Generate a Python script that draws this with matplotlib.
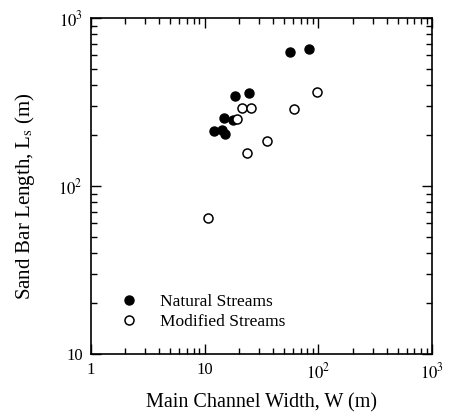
import matplotlib
matplotlib.use("Agg")
import matplotlib.pyplot as plt
from matplotlib.ticker import LogLocator, NullFormatter, FixedFormatter, FixedLocator

plt.rcParams['font.family'] = ['Liberation Serif', 'DejaVu Serif']
plt.rcParams['mathtext.fontset'] = 'stix'

# === Data ===
natural_w = [56.3, 82.3, 18.5, 24.5, 14.9, 17.9, 12.2, 14.3, 15.1]
natural_l = [625, 654, 342, 358, 254, 247, 212, 215, 204]

modified_w = [21.2, 25.6, 19.1, 35.1, 23.4, 60.7, 97.3, 10.8]
modified_l = [290, 290, 250, 186, 157, 287, 363, 64.8]

x_ticks = [1, 10, 100, 1000]
x_tick_labels = ['1', '10', r'$10^2$', r'$10^3$']
y_ticks = [10, 100, 1000]
y_tick_labels = ['10', r'$10^2$', r'$10^3$']

# === Plotting ===
fig = plt.figure(figsize=(4.49, 4.20), dpi=100)
ax = fig.add_axes([0.2027, 0.1571, 0.7594, 0.8000])

ax.plot(natural_w, natural_l, 'o', color='black', markersize=6.5,
        label='Natural Streams')
ax.plot(modified_w, modified_l, 'o', markerfacecolor='white',
        markeredgecolor='black', markeredgewidth=1.1, markersize=6.5,
        label='Modified Streams')

ax.set_xscale('log')
ax.set_yscale('log')
ax.set_xlim(1, 1000)
ax.set_ylim(10, 1000)

ax.xaxis.set_major_locator(FixedLocator(x_ticks))
ax.xaxis.set_major_formatter(FixedFormatter(x_tick_labels))
ax.yaxis.set_major_locator(FixedLocator(y_ticks))
ax.yaxis.set_major_formatter(FixedFormatter(y_tick_labels))
ax.xaxis.set_minor_locator(LogLocator(base=10, subs=range(2, 10)))
ax.yaxis.set_minor_locator(LogLocator(base=10, subs=range(2, 10)))
ax.xaxis.set_minor_formatter(NullFormatter())
ax.yaxis.set_minor_formatter(NullFormatter())

ax.tick_params(which='both', direction='in', top=True, right=True,
               labelsize=12, width=1)
ax.tick_params(which='major', length=7, pad=6)
ax.tick_params(which='minor', length=4)
for s in ax.spines.values():
    s.set_linewidth(1.2)

ax.set_xlabel('Main Channel Width, W (m)', fontsize=14.5, labelpad=8)
ax.set_ylabel(r'Sand Bar Length, L$_\mathrm{s}$ (m)', fontsize=15)
ax.yaxis.set_label_coords(-0.157, 0.47)

ax.legend(loc='upper left', bbox_to_anchor=(0.06, 0.205), frameon=False,
          fontsize=12.5, handletextpad=1.3, labelspacing=0.25,
          markerscale=1.0, handlelength=1.0, borderpad=0.0)

fig.savefig('out.png', dpi=100)
